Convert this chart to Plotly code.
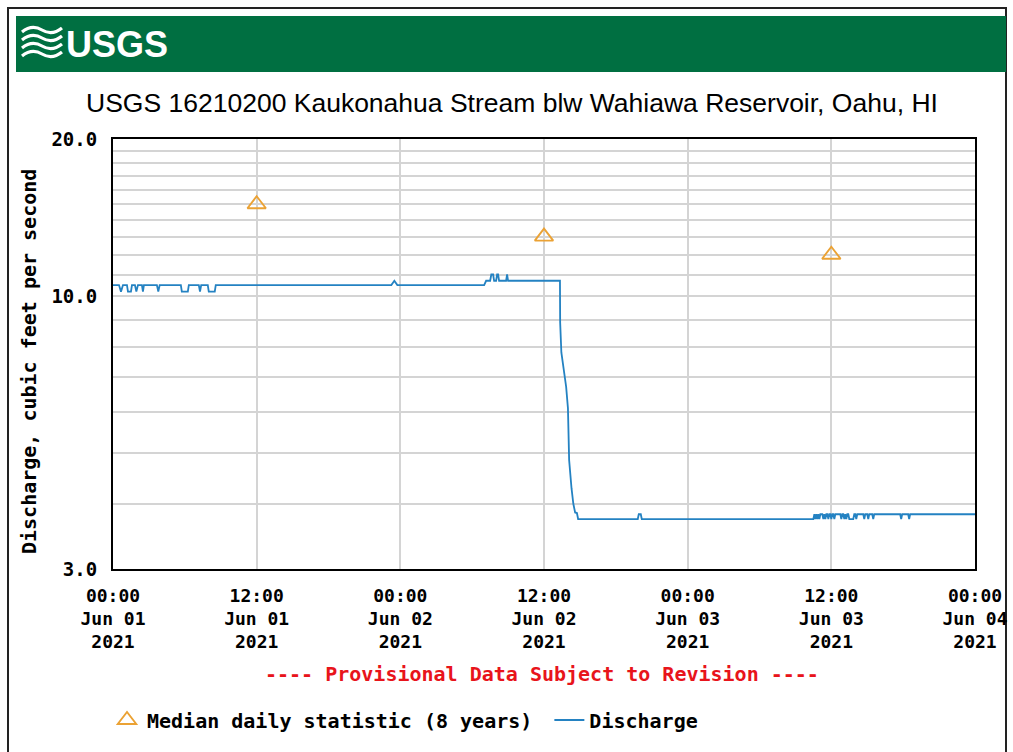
import plotly.graph_objects as go

# ---------------- data ----------------
median_time = ["2021-06-01 12:00", "2021-06-02 12:00", "2021-06-03 12:00"]
median_cfs = [15.0, 13.0, 12.0]

discharge_time = [
    "2021-06-01 00:00", "2021-06-01 00:30", "2021-06-01 00:40", "2021-06-01 00:50",
    "2021-06-01 01:10", "2021-06-01 01:15", "2021-06-01 01:30", "2021-06-01 01:35",
    "2021-06-01 01:50", "2021-06-01 01:57", "2021-06-01 02:05", "2021-06-01 02:25",
    "2021-06-01 02:30", "2021-06-01 02:35", "2021-06-01 03:40", "2021-06-01 03:47",
    "2021-06-01 03:54", "2021-06-01 05:40", "2021-06-01 05:45", "2021-06-01 06:15",
    "2021-06-01 06:20", "2021-06-01 07:10", "2021-06-01 07:16", "2021-06-01 07:22",
    "2021-06-01 07:55", "2021-06-01 08:00", "2021-06-01 08:30", "2021-06-01 08:35",
    "2021-06-01 23:15", "2021-06-01 23:30", "2021-06-01 23:45",
    "2021-06-02 07:00", "2021-06-02 07:10", "2021-06-02 07:30", "2021-06-02 07:36",
    "2021-06-02 07:45", "2021-06-02 07:50", "2021-06-02 08:00", "2021-06-02 08:05",
    "2021-06-02 08:10", "2021-06-02 08:15", "2021-06-02 08:50", "2021-06-02 08:55",
    "2021-06-02 09:00",
    "2021-06-02 13:20", "2021-06-02 13:21", "2021-06-02 13:27", "2021-06-02 13:36",
    "2021-06-02 13:45", "2021-06-02 13:51", "2021-06-02 14:00", "2021-06-02 14:06",
    "2021-06-02 14:18", "2021-06-02 14:27", "2021-06-02 14:36", "2021-06-02 14:45",
    "2021-06-02 14:51",
    "2021-06-02 19:50", "2021-06-02 19:55", "2021-06-02 20:05", "2021-06-02 20:10",
    "2021-06-03 10:30", "2021-06-03 10:35", "2021-06-03 10:40", "2021-06-03 10:45",
    "2021-06-03 10:50", "2021-06-03 10:55", "2021-06-03 11:00", "2021-06-03 11:05",
    "2021-06-03 11:15", "2021-06-03 11:20", "2021-06-03 11:25", "2021-06-03 11:30",
    "2021-06-03 11:35", "2021-06-03 11:40", "2021-06-03 11:45", "2021-06-03 11:50",
    "2021-06-03 11:55", "2021-06-03 12:00", "2021-06-03 12:05", "2021-06-03 12:10",
    "2021-06-03 12:15", "2021-06-03 12:20", "2021-06-03 12:45", "2021-06-03 12:50",
    "2021-06-03 12:55", "2021-06-03 13:00", "2021-06-03 13:05", "2021-06-03 13:10",
    "2021-06-03 13:15", "2021-06-03 13:20", "2021-06-03 13:25", "2021-06-03 13:30",
    "2021-06-03 13:50", "2021-06-03 13:55", "2021-06-03 14:00", "2021-06-03 14:05",
    "2021-06-03 14:10", "2021-06-03 14:40", "2021-06-03 14:45", "2021-06-03 14:50",
    "2021-06-03 15:00", "2021-06-03 15:05", "2021-06-03 15:10", "2021-06-03 15:25",
    "2021-06-03 15:30", "2021-06-03 15:35", "2021-06-03 17:45", "2021-06-03 17:50",
    "2021-06-03 17:55", "2021-06-03 18:25", "2021-06-03 18:30", "2021-06-03 18:35",
    "2021-06-04 00:00",
]
discharge_cfs = [
    10.5, 10.5, 10.2, 10.5,
    10.5, 10.2, 10.2, 10.5,
    10.5, 10.2, 10.5, 10.5,
    10.2, 10.5, 10.5, 10.2,
    10.5, 10.5, 10.2, 10.2,
    10.5, 10.5, 10.2, 10.5,
    10.5, 10.2, 10.2, 10.5,
    10.5, 10.7, 10.5,
    10.5, 10.7, 10.7, 11.0,
    11.0, 10.7, 10.7, 11.0,
    11.0, 10.7, 10.7, 11.0,
    10.7,
    10.7, 8.9, 7.8, 7.3,
    6.9, 6.7, 6.1, 4.85,
    4.28, 4.0, 3.85, 3.84,
    3.74,
    3.74, 3.82, 3.82, 3.74,
    3.74, 3.82, 3.74, 3.82,
    3.74, 3.82, 3.74, 3.82,
    3.82, 3.74, 3.82, 3.74,
    3.82, 3.82, 3.74, 3.82,
    3.82, 3.74, 3.82, 3.82,
    3.74, 3.82, 3.82, 3.74,
    3.82, 3.82, 3.74, 3.82,
    3.74, 3.82, 3.82, 3.74,
    3.74, 3.82, 3.82, 3.74,
    3.82, 3.82, 3.74, 3.82,
    3.82, 3.74, 3.82, 3.82,
    3.74, 3.82, 3.82, 3.74,
    3.82, 3.82, 3.74, 3.82,
    3.82,
]

x_tick_vals = ["2021-06-01 00:00", "2021-06-01 12:00", "2021-06-02 00:00", "2021-06-02 12:00",
               "2021-06-03 00:00", "2021-06-03 12:00", "2021-06-04 00:00"]
x_tick_text = ["00:00<br>Jun 01<br>2021", "12:00<br>Jun 01<br>2021", "00:00<br>Jun 02<br>2021",
               "12:00<br>Jun 02<br>2021", "00:00<br>Jun 03<br>2021", "12:00<br>Jun 03<br>2021",
               "00:00<br>Jun 04<br>2021"]
y_grid_vals = list(range(3, 21))
y_labels = {3: "3.0", 10: "10.0", 20: "20.0"}
y_tick_text = [y_labels.get(v, "") for v in y_grid_vals]

title_text = "USGS 16210200 Kaukonahua Stream blw Wahiawa Reservoir, Oahu, HI"
y_title = "Discharge, cubic feet per second"

# ---------------- figure ----------------
W, H = 1013, 752
L, R, T, B = 113, 975, 139, 569
def px(x):
    return (x - L) / (R - L)
def py(y):
    return (B - y) / (B - T)

mono = "DejaVu Sans Mono"
fig = go.Figure()
fig.add_trace(go.Scatter(
    x=median_time, y=median_cfs, mode="markers",
    name="Median daily statistic (8 years)\u00a0",
    marker=dict(symbol="triangle-up-open", size=16, color="#eba234", line=dict(width=1.9, color="#eba234")),
))
fig.add_trace(go.Scatter(
    x=discharge_time, y=discharge_cfs, mode="lines", name="Discharge",
    line=dict(color="#2482c2", width=1.8),
))

fig.update_layout(
    width=W, height=H,
    margin=dict(l=L, r=W - R, t=T, b=H - B, autoexpand=False),
    paper_bgcolor="white", plot_bgcolor="white",
    font=dict(family=mono, size=18, color="black", weight="bold"),
    showlegend=True,
    legend=dict(orientation="h", x=px(107), y=py(720), xanchor="left", yanchor="middle",
                font=dict(family=mono, size=20, color="black", weight="bold"),
                bgcolor="rgba(0,0,0,0)", itemwidth=30, tracegroupgap=0),
)
fig.update_xaxes(
    type="date", range=["2021-06-01 00:00", "2021-06-04 00:00"], automargin=False,
    tickvals=x_tick_vals, ticktext=x_tick_text, ticks="",
    tickfont=dict(family=mono, size=18, color="black", weight="bold"),
    ticklabelstandoff=9,
    showgrid=True, gridcolor="#d4d4d4", gridwidth=2,
    showline=True, linecolor="black", linewidth=2, mirror=True, zeroline=False,
)
fig.update_yaxes(
    type="log", range=[0.47712, 1.30103], automargin=False,
    tickvals=y_grid_vals, ticktext=y_tick_text, ticks="",
    tickfont=dict(family=mono, size=19, color="black", weight="bold"),
    ticklabelstandoff=10,
    showgrid=True, gridcolor="#d4d4d4", gridwidth=2,
    showline=True, linecolor="black", linewidth=2, mirror=True, zeroline=False,
)

shapes = [
    # outer frame
    dict(type="rect", xref="paper", yref="paper", x0=px(8), x1=px(1006), y0=py(8), y1=py(770),
         line=dict(color="#222", width=2), fillcolor="rgba(0,0,0,0)", layer="below"),
    # green banner
    dict(type="rect", xref="paper", yref="paper", x0=px(16), x1=px(1006), y0=py(16), y1=py(72),
         line=dict(width=0), fillcolor="#006f41", layer="below"),
]
# wave logo strokes (white)
for i, dy in enumerate([0, 8, 16, 24]):
    y0 = 26 + dy
    path = "M {},{} Q {},{} {},{} T {},{}".format(
        px(22), py(y0 + 6), px(32), py(y0 - 2), px(42), py(y0 + 4), px(62), py(y0 + 2))
    shapes.append(dict(type="path", xref="paper", yref="paper", path=path,
                       line=dict(color="white", width=3.2)))
fig.update_layout(shapes=shapes)

fig.add_annotation(xref="paper", yref="paper", x=px(64), y=py(44), xanchor="left", yanchor="middle",
                   text="USGS", showarrow=False,
                   font=dict(family="Liberation Sans", size=36, color="white", weight="bold"))
fig.add_annotation(xref="paper", yref="paper", x=px(512), y=py(103), xanchor="center", yanchor="middle",
                   text=title_text, showarrow=False,
                   font=dict(family="Liberation Sans", size=26.5, color="black", weight="normal"))
fig.add_annotation(xref="paper", yref="paper", x=px(29), y=py(362), xanchor="center", yanchor="middle",
                   text=y_title, textangle=-90, showarrow=False,
                   font=dict(family=mono, size=20, color="black", weight="bold"))
fig.add_annotation(xref="paper", yref="paper", x=px(542), y=py(674), xanchor="center", yanchor="middle",
                   text="---- Provisional Data Subject to Revision ----", showarrow=False,
                   font=dict(family=mono, size=20, color="#e8141b", weight="bold"))

fig.write_html("out.html", config={"displayModeBar": False},
               post_script="document.body.style.margin='0';document.body.style.overflow='hidden';")
